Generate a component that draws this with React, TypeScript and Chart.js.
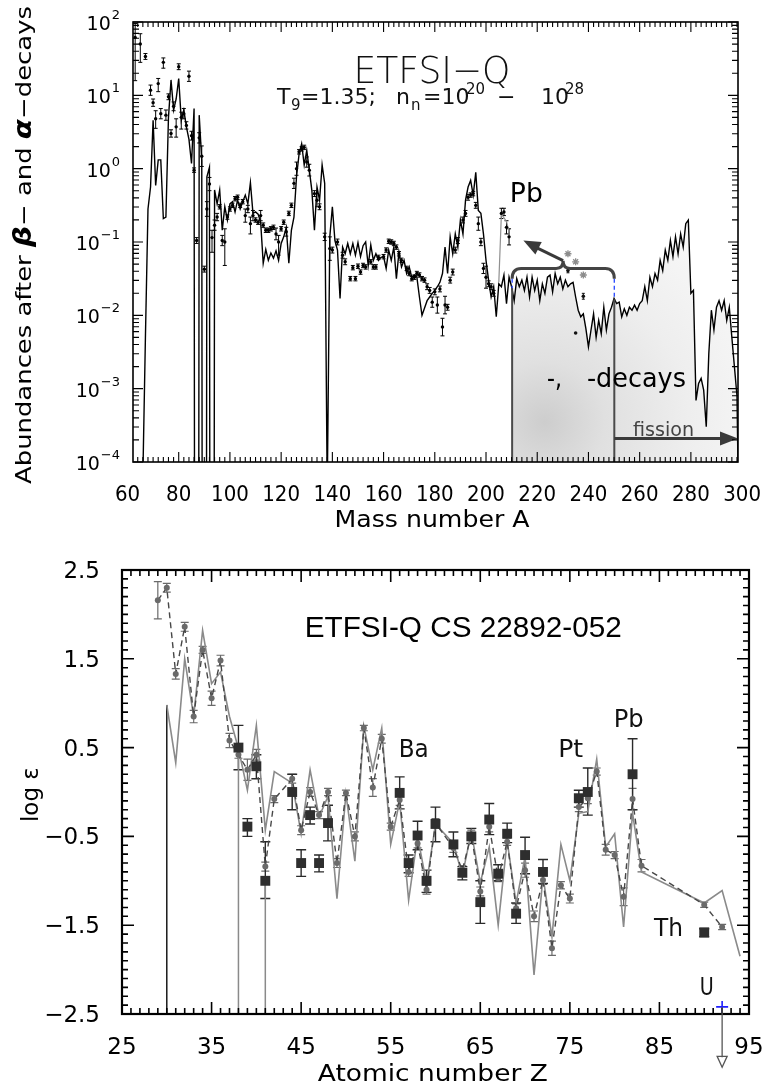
import React, { useEffect, useRef } from "react";
import { Chart, registerables } from "chart.js";

Chart.register(...registerables);

const FONT = "'DejaVu Sans', 'Noto Sans', sans-serif";
const ARIAL = "'Liberation Sans', Arial, sans-serif";

// ================= TOP PANEL DATA (abundance vs mass number A) =================
const modelMass = [
  66, 67, 68, 69, 70, 71, 72, 73, 74, 75,
  76, 77, 78, 79, 80, 81, 82, 83, 84, 85,
  86, 87, 88, 89, 90, 91, 92, 93, 94, 95,
  96, 97, 98, 99, 100, 101, 102, 103, 104, 105,
  106, 107, 108, 109, 110, 111, 112, 113, 114, 115,
  116, 117, 118, 119, 120, 121, 122, 123, 124, 125,
  126, 127, 128, 129, 130, 131, 132, 133, 134, 135,
  136, 137, 138, 139, 140, 141, 142, 143, 144, 145,
  146, 147, 148, 149, 150, 151, 152, 153, 154, 155,
  156, 157, 158, 159, 160, 161, 162, 163, 164, 165,
  166, 167, 168, 169, 170, 171, 172, 173, 174, 175,
  176, 177, 178, 179, 180, 181, 182, 183, 184, 185,
  186, 187, 188, 189, 190, 191, 192, 193, 194, 195,
  196, 197, 198, 199, 200, 201, 202, 203, 204, 205,
  206, 207, 208, 209, 210, 211, 212, 213, 214, 215,
  216, 217, 218, 219, 220, 221, 222, 223, 224, 225,
  226, 227, 228, 229, 230, 231, 232, 233, 234, 235,
  236, 237, 238, 239, 240, 241, 242, 243, 244, 245,
  246, 247, 248, 249, 250, 251, 252, 253, 254, 255,
  256, 257, 258, 259, 260, 261, 262, 263, 264, 265,
  266, 267, 268, 269, 270, 271, 272, 273, 274, 275,
  276, 277, 278, 279, 280, 281, 282, 283, 284, 285,
  286, 287, 288, 289, 290, 291, 292, 293, 294, 295,
  296, 297, 298, 299,
];
// log10 of abundance
const modelLogAbund = [
  -4.2, -2.3, -0.55, -0.25, 0.66, -0.23, 0.12, 0.12, -0.68, -0.66,
  0.70, 1.21, 0.80, 0.95, 1.23, 0.66, 0.80, 0.57, 0.40, 0.07,
  0.82, -30, 0.73, 0.11, -30, -0.11, 0.02, -30, -0.29, -0.48,
  -0.29, -0.84, -0.52, -0.70, -0.48, -0.45, -0.59, -0.43, -0.55, -0.45,
  -0.36, -0.48, -0.19, -0.61, -0.59, -0.62, -0.73, -1.29, -1.10, -1.25,
  -1.15, -1.22, -1.12, -1.25, -1.02, -0.93, -0.80, -1.29, -0.84, -0.66,
  -0.11, 0.20, 0.34, 0.05, 0.25, -0.02, -0.30, -0.84, -0.25, -0.43,
  0.05, -0.20, -4.4, -0.93, -0.52, -0.98, -1.11, -1.77, -1.07, -1.16,
  -1.02, -1.16, -1.02, -1.18, -1.01, -1.20, -1.05, -1.00, -1.32, -1.04,
  -1.25, -1.16, -1.25, -1.21, -1.20, -1.36, -1.11, -1.25, -1.07, -1.50,
  -1.14, -1.34, -1.25, -1.43, -1.34, -1.48, -1.45, -1.48, -1.75, -2.00,
  -1.90, -1.80, -1.75, -1.70, -1.66, -1.61, -1.55, -1.43, -1.07, -1.43,
  -0.93, -1.16, -0.89, -1.07, -0.70, -0.89, -0.43, -0.25, -0.16, -0.36,
  -0.05, -0.57, -0.61, -0.89, -1.25, -1.52, -1.75, -1.61, -2.02, -1.57,
  -1.61, -1.45, -1.84, -1.48, -1.61, -1.80, -1.50, -1.61, -1.52, -1.66,
  -1.48, -1.75, -1.48, -1.66, -1.52, -1.80, -1.57, -1.70, -1.48, -1.45,
  -1.68, -1.43, -1.57, -1.48, -1.64, -1.52, -1.61, -1.57, -1.55, -1.75,
  -1.93, -2.02, -1.98, -2.18, -2.43, -2.20, -1.98, -2.30, -2.07, -2.25,
  -1.89, -2.20, -1.98, -1.89, -1.77, -1.84, -1.82, -2.02, -1.91, -2.00,
  -1.89, -1.93, -1.86, -1.93, -1.84, -1.80, -1.61, -1.80, -1.48, -1.61,
  -1.43, -1.52, -1.25, -1.39, -1.11, -1.25, -0.98, -1.20, -0.93, -1.16,
  -0.89, -1.07, -0.75, -0.70, -1.70, -1.66, -3.16, -2.93, -2.86, -3.02,
  -3.52, -2.52, -1.93, -2.20, -1.89, -1.80, -1.93, -1.80, -2.07, -1.89,
  -2.30, -2.70, -3.10, -5.5,
];

const obsMass = [
  63, 65, 67,
  69, 70, 71, 72, 73, 74, 75, 76, 77, 78, 79, 80, 81, 82, 83, 84, 85, 86, 87, 88, 89, 90,
  91, 92, 93, 94, 95, 96, 97, 98, 99, 100, 101, 102, 103, 104, 105, 106, 107, 108, 109, 110,
  111, 112, 113, 114, 115, 116, 117, 118, 119, 120, 121, 122, 123, 124, 125, 126, 127, 128, 129, 130, 131,
  133, 134, 135, 137, 139, 140, 142, 144, 145,
  147, 148, 149, 150, 151, 152, 153,
  155, 156, 157, 158,
  160, 161, 162, 163, 164, 165, 166, 167,
  169, 170, 171, 172, 173, 174, 175, 176, 177, 178, 179, 180, 181, 182, 183, 184, 185, 186, 187, 188, 189,
  191, 192, 193, 194, 195, 196, 197, 198, 199, 200, 201, 202, 203,
  206, 207, 208, 209,
];
const obsLogAbund = [
  1.79, 1.70, 1.53,
  1.07, 0.90, 0.68, 1.16, 0.75, 1.45, 0.73, 0.98, 0.48, 0.85, 0.57, 1.39, 0.70, 0.75, 0.59, 1.26, 0.45, -0.02, -0.98, 0.42, 0.17, -1.37,
  -0.55, -0.21, -0.94, -0.77, -0.66, -0.52, -0.98, -1.00, -0.66, -0.55, -0.50, -0.41, -0.39, -0.50, -0.45, -0.64, -0.55, -0.75, -0.64, -0.70,
  -0.73, -0.64, -0.77, -0.84, -0.84, -0.82, -0.80, -0.89, -1.00, -0.82, -0.73, -0.86, -0.61, -0.50, -0.20, 0.00, 0.23, 0.27, 0.29, 0.09, -0.02,
  -0.34, -0.43, -0.52, -0.93, -1.09, -1.11, -1.00, -1.18, -1.27,
  -1.50, -1.35, -1.50, -1.33, -1.41, -1.32, -1.34,
  -1.27, -1.34, -1.34, -1.21,
  -1.20, -1.11, -0.99, -1.00, -1.02, -1.07, -1.16, -1.25,
  -1.36, -1.43, -1.50, -1.48, -1.43, -1.45, -1.50, -1.52, -1.61, -1.66, -1.82, -1.68, -1.86, -1.64, -2.16, -1.86, -1.89, -1.52, -1.41, -1.11, -0.98,
  -0.70, -0.61, -0.39, -0.36, -0.34, -0.50, -0.75, -1.00, -1.36, -1.48, -1.57, -1.61, -1.70,
  -0.61, -0.59, -0.80, -0.93,
];
const obsErrUp = [
  0.19, 0.14, 0.04,
  0.07, 0.05, 0.11, 0.07, 0.07, 0.06, 0.07, 0.04, 0.05, 0.06, 0.11, 0.04, 0.07, 0.07, 0.05, 0.07, 0.06, 0.03, 0.04, 0.07, 0.14, 0.04,
  0.10, 0.09, 0.10, 0.07, 0.05, 0.03, 0.07, 0.18, 0.03, 0.03, 0.03, 0.03, 0.03, 0.03, 0.03, 0.09, 0.05, 0.09, 0.07, 0.03,
  0.03, 0.07, 0.03, 0.03, 0.03, 0.03, 0.03, 0.08, 0.09, 0.03, 0.03, 0.06, 0.03, 0.03, 0.07, 0.09, 0.03, 0.03, 0.03, 0.07, 0.08,
  0.04, 0.09, 0.04, 0.05, 0.16, 0.04, 0.04, 0.04, 0.04,
  0.03, 0.03, 0.03, 0.03, 0.03, 0.03, 0.03,
  0.03, 0.03, 0.03, 0.03,
  0.03, 0.03, 0.03, 0.03, 0.03, 0.03, 0.03, 0.03,
  0.03, 0.03, 0.03, 0.03, 0.03, 0.03, 0.03, 0.03, 0.04, 0.04, 0.07, 0.04, 0.11, 0.04, 0.12, 0.12, 0.04, 0.04, 0.04, 0.04, 0.04,
  0.04, 0.04, 0.04, 0.03, 0.03, 0.04, 0.09, 0.05, 0.07, 0.15, 0.04, 0.04, 0.04,
  0.07, 0.05, 0.09, 0.11,
];
const obsErrDn = [
  0.59, 0.25, 0.04,
  0.07, 0.05, 0.13, 0.11, 0.07, 0.08, 0.07, 0.04, 0.05, 0.06, 0.14, 0.04, 0.16, 0.07, 0.05, 0.07, 0.06, 0.03, 0.04, 0.07, 0.14, 0.04,
  0.10, 0.09, 0.20, 0.07, 0.05, 0.03, 0.07, 0.32, 0.03, 0.03, 0.03, 0.03, 0.03, 0.03, 0.03, 0.09, 0.05, 0.14, 0.07, 0.03,
  0.03, 0.07, 0.03, 0.03, 0.03, 0.03, 0.03, 0.08, 0.18, 0.03, 0.03, 0.06, 0.03, 0.03, 0.07, 0.09, 0.03, 0.03, 0.03, 0.07, 0.08,
  0.04, 0.09, 0.04, 0.05, 0.16, 0.04, 0.04, 0.04, 0.04,
  0.03, 0.03, 0.03, 0.03, 0.03, 0.03, 0.03,
  0.03, 0.03, 0.03, 0.03,
  0.03, 0.03, 0.03, 0.03, 0.03, 0.03, 0.03, 0.03,
  0.03, 0.03, 0.03, 0.03, 0.03, 0.03, 0.03, 0.03, 0.04, 0.04, 0.07, 0.04, 0.11, 0.04, 0.12, 0.12, 0.04, 0.04, 0.04, 0.04, 0.04,
  0.04, 0.04, 0.04, 0.03, 0.03, 0.04, 0.09, 0.05, 0.07, 0.15, 0.04, 0.04, 0.04,
  0.07, 0.05, 0.09, 0.11,
];

const pbMass = [205, 206, 208, 209];
const pbLogAbund = [-1.55, -0.62, -0.72, -0.86];

const chronoMass = [232, 235, 238];
const chronoLogPred = [-1.16, -1.27, -1.45];
const chronoLogObs = [-1.39, -2.24, -1.74];
const chronoErr = [0.03, 0.04, 0.04];

const topXTicks = [60, 80, 100, 120, 140, 160, 180, 200, 220, 240, 260, 280, 300];
const topYExponents = [2, 1, 0, -1, -2, -3, -4];
const decayStartA = 210.2;
const fissionStartA = 250.1;

// ================= BOTTOM PANEL DATA (log eps vs Z) =================
const solidZ = [
  30, 31, 32, 33, 34, 35, 36, 37, 38, 39, 40, 41, 42,
  44, 45, 46, 47, 48, 49, 50, 51, 52, 53, 54, 55, 56, 57, 58, 59, 60,
  62, 63, 64, 65, 66, 67, 68, 69, 70, 71, 72, 73, 74, 75, 76, 77, 78, 79, 80, 81, 82, 83,
  90, 92, 94,
];
const solidLogEps = [
  0.98, 0.33, 1.50, 0.85, 1.82, 1.22, 1.35, 0.85, 0.49, 0.02, 0.75, -0.43, 0.23,
  0.10, -0.47, 0.25, -0.28, -0.05, -1.20, -0.02, -0.78, 0.74, 0.25, 0.72, -0.59, -0.10, -1.22, -0.50, -1.03, -0.36,
  -0.58, -0.94, -0.45, -1.02, -0.62, -1.50, -0.55, -1.25, -0.73, -2.06, -0.95, -1.63, -0.59, -1.00, -0.24, -0.22, 0.37, -0.62, -0.47, -1.52, -0.24, -0.90,
  -1.25, -1.11, -1.85,
];

const predZ = [
  29, 30, 31, 32, 33, 34, 35, 36, 37, 38, 39, 40, 41, 42,
  44, 45, 46, 47, 48, 49, 50, 51, 52, 53, 54, 55, 56, 57, 58, 59, 60,
  62, 63, 64, 65, 66, 67, 68, 69, 70, 71, 72, 73, 74, 75, 76, 77, 78, 79, 80, 81, 82, 83,
  90, 92,
];
const predLogEps = [
  2.16, 2.30, 1.33, 1.86, 0.85, 1.60, 1.055, 1.48, 0.58, 0.42, 0.25, 0.42, -0.84, -0.08,
  0.15, -0.43, 0.00, -0.26, 0.00, -0.80, -0.01, -0.50, 0.72, 0.05, 0.60, -0.39, -0.09, -0.90, -0.58, -1.10, -0.35,
  -0.63, -0.88, -0.48, -1.12, -0.39, -0.97, -0.56, -1.31, -0.88, -1.40, -0.99, -1.76, -1.05, -1.20, -0.17, -0.07, 0.23, -0.65, -0.71, -1.18, -0.08, -0.83,
  -1.27, -1.52,
];
const predErr = [
  0.21, 0.05, 0.06, 0.05, 0.07, 0.04, 0.08, 0.06, 0.08, 0.04, 0.12, 0.06, 0.05, 0.04,
  0.05, 0.05, 0.05, 0.04, 0.04, 0.05, 0.03, 0.05, 0.03, 0.10, 0.05, 0.04, 0.06, 0.05, 0.05, 0.05, 0.05,
  0.05, 0.05, 0.05, 0.05, 0.06, 0.04, 0.04, 0.05, 0.08, 0.06, 0.05, 0.08, 0.04, 0.05, 0.05, 0.06, 0.04, 0.06, 0.04, 0.10, 0.12, 0.07,
  0.03, 0.03,
];

const starZ = [38, 39, 40, 41, 44, 45, 46, 47, 48, 56, 57, 58, 59, 60, 62, 63, 64, 65, 66, 67, 68, 69, 70, 72, 76, 77, 82, 90];
const starLogEps = [0.50, -0.39, 0.29, -1.00, 0.00, -0.80, -0.26, -0.80, -0.35, -0.01, -0.80, -0.49, -1.00, -0.36, -0.59, -0.91, -0.50, -1.24, -0.31, -0.92, -0.47, -1.37, -0.71, -0.90, -0.07, 0.00, 0.20, -1.58];
const starErrUp = [0.25, 0.09, 0.13, 0.44, 0.20, 0.15, 0.09, 0.09, 0.20, 0.18, 0.09, 0.16, 0.12, 0.19, 0.14, 0.07, 0.09, 0.24, 0.18, 0.10, 0.12, 0.12, 0.20, 0.14, 0.09, 0.27, 0.40, 0.04];
const starErrDn = [0.25, 0.11, 0.14, 0.20, 0.20, 0.15, 0.10, 0.10, 0.20, 0.18, 0.11, 0.16, 0.13, 0.20, 0.14, 0.08, 0.08, 0.24, 0.17, 0.08, 0.10, 0.11, 0.21, 0.13, 0.10, 0.26, 0.40, 0.05];

const dropZ = [30, 38, 41];
const dropTop = [0.98, 0.50, -1.00];

const uZ = [92];
const uLogEps = [-2.42];

const botXTicks = [25, 35, 45, 55, 65, 75, 85, 95];
const botYTicks = [2.5, 1.5, 0.5, -0.5, -1.5, -2.5];

// ================= helpers =================
function fitText(ctx: CanvasRenderingContext2D, text: string, x: number, y: number, width: number, align: CanvasTextAlign) {
  const w = ctx.measureText(text).width || 1;
  ctx.save();
  ctx.translate(x, y);
  ctx.scale(width / w, 1);
  ctx.textAlign = align;
  ctx.fillText(text, 0, 0);
  ctx.restore();
}

function arrowHead(ctx: CanvasRenderingContext2D, x1: number, y1: number, x2: number, y2: number, len: number, half: number, fill: boolean) {
  const ang = Math.atan2(y2 - y1, x2 - x1);
  const bx = x2 - len * Math.cos(ang);
  const by = y2 - len * Math.sin(ang);
  ctx.beginPath();
  ctx.moveTo(x2, y2);
  ctx.lineTo(bx + half * Math.sin(ang), by - half * Math.cos(ang));
  ctx.lineTo(bx - half * Math.sin(ang), by + half * Math.cos(ang));
  ctx.closePath();
  if (fill) ctx.fill();
  else ctx.stroke();
}

const errorBarPlugin = {
  id: "errorBars",
  beforeDatasetsDraw(chart: any) {
    const { ctx, chartArea: a } = chart;
    chart.data.datasets.forEach((ds: any, i: number) => {
      const eb = ds.errorBars;
      if (!eb) return;
      const meta = chart.getDatasetMeta(i);
      const xs = chart.scales[meta.xAxisID];
      const ys = chart.scales[meta.yAxisID];
      ctx.save();
      ctx.beginPath();
      ctx.rect(a.left, a.top, a.right - a.left, a.bottom - a.top);
      ctx.clip();
      ctx.strokeStyle = eb.color;
      ctx.lineWidth = eb.width;
      ctx.beginPath();
      ds.data.forEach((p: any, j: number) => {
        const x = xs.getPixelForValue(p.x);
        const y1 = ys.getPixelForValue(eb.lo[j]);
        const y2 = ys.getPixelForValue(eb.hi[j]);
        ctx.moveTo(x, y1);
        ctx.lineTo(x, y2);
        ctx.moveTo(x - eb.cap, y1);
        ctx.lineTo(x + eb.cap, y1);
        ctx.moveTo(x - eb.cap, y2);
        ctx.lineTo(x + eb.cap, y2);
      });
      ctx.stroke();
      ctx.restore();
    });
  },
};

// ================= top decorations =================
const topDecorPlugin = {
  id: "topDecor",
  afterDatasetsDraw(chart: any) {
    const { ctx, chartArea: a, scales } = chart;
    const X = (v: number) => scales.x.getPixelForValue(v);
    const Y = (l: number) => scales.y.getPixelForValue(Math.pow(10, l));
    ctx.save();
    // vertical separators
    ctx.strokeStyle = "#4a4a4a";
    ctx.lineWidth = 2;
    ctx.beginPath();
    ctx.moveTo(X(decayStartA), Y(-1.63));
    ctx.lineTo(X(decayStartA), a.bottom);
    ctx.moveTo(X(fissionStartA), Y(-1.78));
    ctx.lineTo(X(fissionStartA), a.bottom);
    ctx.stroke();
    // blue dashes
    ctx.strokeStyle = "#3050ff";
    ctx.lineWidth = 1.4;
    ctx.setLineDash([4, 3]);
    ctx.beginPath();
    ctx.moveTo(X(decayStartA), Y(-1.5));
    ctx.lineTo(X(decayStartA), Y(-1.63));
    ctx.moveTo(X(fissionStartA), Y(-1.5));
    ctx.lineTo(X(fissionStartA), Y(-1.78));
    ctx.stroke();
    ctx.setLineDash([]);
    // brace
    const xl = X(decayStartA), xr = X(fissionStartA), xt = X(230.1);
    const yb = Y(-1.36), ye = Y(-1.5), ytp = Y(-1.255);
    ctx.strokeStyle = "#444";
    ctx.lineWidth = 3;
    ctx.beginPath();
    ctx.moveTo(xl, ye);
    ctx.quadraticCurveTo(xl, yb, xl + 9, yb);
    ctx.lineTo(xt - 7, yb);
    ctx.quadraticCurveTo(xt, yb, xt, ytp);
    ctx.quadraticCurveTo(xt, yb, xt + 7, yb);
    ctx.lineTo(xr - 9, yb);
    ctx.quadraticCurveTo(xr, yb, xr, ye);
    ctx.stroke();
    // arrow to Pb
    const ax2 = X(214.6), ay2 = Y(-0.98);
    ctx.strokeStyle = "#3a3a3a";
    ctx.fillStyle = "#3a3a3a";
    ctx.lineWidth = 3;
    ctx.beginPath();
    ctx.moveTo(xt, ytp);
    ctx.lineTo(ax2 + 10, ay2 + 5.5);
    ctx.stroke();
    arrowHead(ctx, xt, ytp, ax2, ay2, 17, 7, true);
    // fission arrow
    const fy = Y(-3.68);
    ctx.beginPath();
    ctx.moveTo(X(fissionStartA), fy);
    ctx.lineTo(a.right - 12, fy);
    ctx.stroke();
    arrowHead(ctx, X(fissionStartA), fy, a.right, fy, 18, 7, true);
    // texts
    ctx.fillStyle = "#000";
    ctx.textBaseline = "alphabetic";
    ctx.font = `27px ${FONT}`;
    fitText(ctx, "Pb", X(209.3), Y(-0.46), 33, "left");
    ctx.font = `27px ${FONT}`;
    fitText(ctx, "-,", X(223.8), Y(-2.98), 15, "left");
    fitText(ctx, "-decays", X(239.4), Y(-2.98), 99, "left");
    ctx.fillStyle = "#444";
    ctx.font = `20px ${FONT}`;
    fitText(ctx, "fission", X(269.3), Y(-3.65), 61, "center");
    // title
    ctx.fillStyle = "#111";
    ctx.font = `200 38px ${FONT}`;
    fitText(ctx, "ETFSI\u2212Q", X(178.9), Y(1.165), 157, "center");
    // subtitle
    ctx.fillStyle = "#111";
    const base = Y(0.88);
    const segs: [string, number, number, number][] = [
      ["T", 277, 22, 0],
      ["9", 291, 15, 6],
      ["=1.35;", 301, 22, 0],
      ["n", 396, 22, 0],
      ["n", 411, 15, 6],
      ["=10", 423, 22, 0],
      ["20", 466, 15, -10],
      ["\u2212", 497, 22, 0],
      ["10", 541, 22, 0],
      ["28", 565, 15, -10],
    ];
    segs.forEach(([t, px, size, dy]) => {
      ctx.font = `${size}px ${FONT}`;
      ctx.textAlign = "left";
      ctx.fillText(t, px, base + dy);
    });
    ctx.restore();
  },
  afterDraw(chart: any) {
    const { ctx, chartArea: a, scales } = chart;
    const xs = scales.x, ys = scales.y;
    ctx.save();
    ctx.strokeStyle = "#000";
    ctx.lineWidth = 1.1;
    ctx.beginPath();
    for (let v = 62; v <= 298; v += 2) {
      if (v < xs.min || v > xs.max) continue;
      const x = xs.getPixelForValue(v);
      const len = v % 20 === 0 ? 10 : 5;
      ctx.moveTo(x, a.bottom);
      ctx.lineTo(x, a.bottom - len);
      ctx.moveTo(x, a.top);
      ctx.lineTo(x, a.top + len);
    }
    for (let e = -4; e <= 2; e++) {
      for (let k = 1; k <= 9; k++) {
        if (e === 2 && k > 1) break;
        const y = ys.getPixelForValue(k * Math.pow(10, e));
        const len = k === 1 ? 10 : 6;
        ctx.moveTo(a.left, y);
        ctx.lineTo(a.left + len, y);
        ctx.moveTo(a.right, y);
        ctx.lineTo(a.right - len, y);
      }
    }
    ctx.stroke();
    ctx.lineWidth = 1.6;
    ctx.strokeRect(a.left, a.top, a.right - a.left, a.bottom - a.top);

    // tick labels
    ctx.fillStyle = "#000";
    ctx.textBaseline = "alphabetic";
    ctx.font = `22px ${FONT}`;
    topXTicks.forEach((v) => {
      const x = xs.getPixelForValue(v);
      const t = String(v);
      fitText(ctx, t, x, a.bottom + 39, t.length * 12.6, "center");
    });
    topYExponents.forEach((e) => {
      const y = ys.getPixelForValue(Math.pow(10, e));
      const ex = e < 0 ? "\u2212" + Math.abs(e) : String(e);
      ctx.font = `13px ${FONT}`;
      ctx.textAlign = "right";
      const right = a.left - 13;
      ctx.fillText(ex, right, y - 3);
      const ew = ctx.measureText(ex).width;
      ctx.font = `19px ${FONT}`;
      ctx.fillText("10", right - ew - 1, y + 8);
    });
    // x title
    ctx.font = `23px ${FONT}`;
    fitText(ctx, "Mass number A", xs.getPixelForValue(178.9), a.bottom + 65, 195, "center");
    // y title
    ctx.save();
    ctx.translate(23, a.top + 223);
    ctx.rotate(-Math.PI / 2);
    const parts: [string, string][] = [
      ["Abundances after ", `22px ${FONT}`],
      ["\u03b2", `italic bold 25px ${FONT}`],
      ["\u2212 and ", `22px ${FONT}`],
      ["\u03b1", `italic bold 25px ${FONT}`],
      ["\u2212decays", `22px ${FONT}`],
    ];
    let total = 0;
    parts.forEach(([t, f]) => {
      ctx.font = f;
      total += ctx.measureText(t).width;
    });
    ctx.scale(478 / total, 1);
    let cx = -total / 2;
    parts.forEach(([t, f]) => {
      ctx.font = f;
      ctx.textAlign = "left";
      ctx.fillText(t, cx, 8);
      cx += ctx.measureText(t).width;
    });
    ctx.restore();
    ctx.restore();
  },
};

// ================= bottom decorations =================
const botDecorPlugin = {
  id: "botDecor",
  afterDraw(chart: any) {
    const { ctx, chartArea: a, scales } = chart;
    const xs = scales.x, ys = scales.y;
    const X = (v: number) => xs.getPixelForValue(v);
    const Y = (v: number) => ys.getPixelForValue(v);
    ctx.save();
    ctx.strokeStyle = "#000";
    ctx.lineWidth = 1.6;
    ctx.beginPath();
    for (let v = 25; v <= 95; v++) {
      const x = X(v);
      const len = (v - 25) % 10 === 0 ? 12 : 6;
      ctx.moveTo(x, a.bottom);
      ctx.lineTo(x, a.bottom - len);
      ctx.moveTo(x, a.top);
      ctx.lineTo(x, a.top + len);
    }
    for (let i = -25; i <= 25; i++) {
      const y = Y(i / 10);
      const len = (i + 25) % 10 === 0 ? 12 : 6;
      ctx.moveTo(a.left, y);
      ctx.lineTo(a.left + len, y);
      ctx.moveTo(a.right, y);
      ctx.lineTo(a.right - len, y);
    }
    ctx.stroke();
    ctx.lineWidth = 2.2;
    ctx.strokeRect(a.left, a.top, a.right - a.left, a.bottom - a.top);

    // U upper-limit arrow
    const ux = X(uZ[0]);
    ctx.strokeStyle = "#555";
    ctx.lineWidth = 1.3;
    ctx.beginPath();
    ctx.moveTo(ux, Y(uLogEps[0]));
    ctx.lineTo(ux, Y(-3.1) - 10);
    ctx.stroke();
    arrowHead(ctx, ux, Y(-2.5), ux, Y(-3.1), 11, 5, false);

    ctx.fillStyle = "#000";
    ctx.textBaseline = "alphabetic";
    ctx.font = `23px ${FONT}`;
    botXTicks.forEach((v) => {
      ctx.textAlign = "center";
      ctx.fillText(String(v), X(v), a.bottom + 40);
    });
    botYTicks.forEach((v) => {
      ctx.textAlign = "right";
      const t = v < 0 ? "\u2212" + Math.abs(v).toFixed(1) : v.toFixed(1);
      ctx.fillText(t, a.left - 22, Y(v) + 8);
    });
    ctx.font = `23px ${FONT}`;
    fitText(ctx, "Atomic number Z", X(59.7), a.bottom + 67, 230, "center");
    ctx.save();
    ctx.translate(38, Y(-0.03));
    ctx.rotate(-Math.PI / 2);
    ctx.font = `23px ${FONT}`;
    ctx.textAlign = "center";
    ctx.fillText("log \u03b5", 0, 0);
    ctx.restore();

    // title and element labels
    ctx.font = `29px ${ARIAL}`;
    fitText(ctx, "ETFSI-Q CS 22892-052", X(63.1), Y(1.745), 317, "center");
    ctx.font = `25px ${FONT}`;
    ctx.fillStyle = "#111";
    const labels: [string, number, number, number][] = [
      ["Ba", 55.9, 0.394, 30],
      ["Pt", 73.7, 0.394, 25],
      ["Pb", 79.9, 0.73, 30],
      ["Th", 84.4, -1.62, 29],
      ["U", 89.5, -2.29, 14],
    ];
    labels.forEach(([t, z, v, w]) => fitText(ctx, t, X(z), Y(v), w, "left"));
    ctx.restore();
  },
};

function topConfig(): any {
  const model = modelMass.map((m, i) => ({ x: m, y: Math.pow(10, modelLogAbund[i]) }));
  const shaded = model.filter((p) => p.x >= 210);
  const obs = obsMass.map((m, i) => ({ x: m, y: Math.pow(10, obsLogAbund[i]) }));
  const pb = pbMass.map((m, i) => ({ x: m, y: Math.pow(10, pbLogAbund[i]) }));
  const chPred = chronoMass.map((m, i) => ({ x: m, y: Math.pow(10, chronoLogPred[i]) }));
  const chObs = chronoMass.map((m, i) => ({ x: m, y: Math.pow(10, chronoLogObs[i]) }));
  return {
    type: "line",
    data: {
      datasets: [
        {
          data: shaded,
          fill: "start",
          borderWidth: 0,
          pointRadius: 0,
          order: 10,
          backgroundColor: (c: any) => {
            const ch = c.chart;
            const a = ch.chartArea;
            if (!a) return "#ebebeb";
            const cx = ch.scales.x.getPixelForValue(223);
            const cy = a.bottom - 40;
            const g = ch.ctx.createRadialGradient(cx, cy, 0, cx, cy, 240);
            g.addColorStop(0, "#cdcdcd");
            g.addColorStop(0.25, "#e0e0e0");
            g.addColorStop(0.6, "#eeeeee");
            g.addColorStop(1, "#f8f8f8");
            return g;
          },
        },
        {
          data: model,
          borderColor: "#000",
          borderWidth: 1.4,
          pointRadius: 0,
          fill: false,
          order: 5,
        },
        {
          data: pb,
          borderColor: "#909090",
          borderWidth: 1.2,
          pointRadius: 0,
          fill: false,
          order: 4,
        },
        {
          data: obs,
          showLine: false,
          pointRadius: 1.7,
          pointBackgroundColor: "#000",
          pointBorderColor: "#000",
          pointBorderWidth: 0,
          order: 1,
          errorBars: {
            lo: obsLogAbund.map((l, i) => Math.pow(10, l - obsErrDn[i])),
            hi: obsLogAbund.map((l, i) => Math.pow(10, l + obsErrUp[i])),
            color: "#000",
            width: 1,
            cap: 2,
          },
        },
        {
          data: chPred,
          showLine: false,
          pointStyle: "star",
          pointRadius: 3.5,
          pointBorderColor: "#8c8c8c",
          pointBorderWidth: 1.3,
          order: 2,
        },
        {
          data: chObs,
          showLine: false,
          pointRadius: 1.8,
          pointBackgroundColor: "#111",
          pointBorderColor: "#111",
          pointBorderWidth: 0,
          order: 1,
          errorBars: {
            lo: chronoLogObs.map((l, i) => Math.pow(10, l - chronoErr[i])),
            hi: chronoLogObs.map((l, i) => Math.pow(10, l + chronoErr[i])),
            color: "#111",
            width: 1,
            cap: 1.5,
          },
        },
      ],
    },
    options: {
      animation: false,
      responsive: false,
      maintainAspectRatio: false,
      events: [],
      layout: { padding: { left: 133, right: 28, top: 22, bottom: 78 } },
      plugins: { legend: { display: false }, tooltip: { enabled: false } },
      scales: {
        x: { type: "linear", display: false, min: 62.15, max: 298.4 },
        y: { type: "logarithmic", display: false, min: 1e-4, max: 100 },
      },
    },
    plugins: [errorBarPlugin, topDecorPlugin],
  };
}

function botConfig(): any {
  const solid = solidZ.map((z, i) => ({ x: z, y: solidLogEps[i] }));
  const pred = predZ.map((z, i) => ({ x: z, y: predLogEps[i] }));
  const star = starZ.map((z, i) => ({ x: z, y: starLogEps[i] }));
  const drops = dropZ.map((z, i) => ({
    data: [
      { x: z, y: dropTop[i] },
      { x: z, y: -3.5 },
    ],
    borderColor: i === 0 ? "#1a1a1a" : "#8a8a8a",
    borderWidth: 1.5,
    pointRadius: 0,
    fill: false,
    order: 6,
  }));
  return {
    type: "line",
    data: {
      datasets: [
        {
          data: solid,
          borderColor: "#8a8a8a",
          borderWidth: 1.6,
          pointRadius: 0,
          fill: false,
          order: 5,
        },
        ...drops,
        {
          data: pred,
          borderColor: "#474747",
          borderWidth: 1.4,
          borderDash: [6, 4],
          pointRadius: 3,
          pointBackgroundColor: "#6a6a6a",
          pointBorderColor: "#6a6a6a",
          pointBorderWidth: 0,
          fill: false,
          order: 3,
          errorBars: {
            lo: predLogEps.map((v, i) => v - predErr[i]),
            hi: predLogEps.map((v, i) => v + predErr[i]),
            color: "#6a6a6a",
            width: 1.2,
            cap: 4,
          },
        },
        {
          data: star,
          showLine: false,
          pointStyle: "rect",
          pointRadius: 7,
          pointBackgroundColor: "#2e2e2e",
          pointBorderColor: "#2e2e2e",
          pointBorderWidth: 0,
          order: 1,
          errorBars: {
            lo: starLogEps.map((v, i) => v - starErrDn[i]),
            hi: starLogEps.map((v, i) => v + starErrUp[i]),
            color: "#2a2a2a",
            width: 1.4,
            cap: 5,
          },
        },
        {
          data: uZ.map((z, i) => ({ x: z, y: uLogEps[i] })),
          showLine: false,
          pointStyle: "cross",
          pointRadius: 6,
          pointBorderColor: "#1f1fff",
          pointBorderWidth: 1.6,
          clip: false,
          order: 0,
        },
      ],
    },
    options: {
      animation: false,
      responsive: false,
      maintainAspectRatio: false,
      events: [],
      layout: { padding: { left: 122, right: 17, top: 30, bottom: 70 } },
      plugins: { legend: { display: false }, tooltip: { enabled: false } },
      scales: {
        x: { type: "linear", display: false, min: 25, max: 95 },
        y: { type: "linear", display: false, min: -2.5, max: 2.5 },
      },
    },
    plugins: [errorBarPlugin, botDecorPlugin],
  };
}

export default function App() {
  const topRef = useRef<HTMLCanvasElement>(null);
  const botRef = useRef<HTMLCanvasElement>(null);
  useEffect(() => {
    const top = new Chart(topRef.current as HTMLCanvasElement, topConfig());
    const bot = new Chart(botRef.current as HTMLCanvasElement, botConfig());
    return () => {
      top.destroy();
      bot.destroy();
    };
  }, []);
  return (
    <div style={{ position: "absolute", left: 0, top: 0, width: 766, height: 1084, background: "#fff" }}>
      <canvas ref={topRef} width={766} height={540} style={{ position: "absolute", left: 0, top: 0, width: 766, height: 540 }} />
      <canvas ref={botRef} width={766} height={544} style={{ position: "absolute", left: 0, top: 540, width: 766, height: 544 }} />
    </div>
  );
}
